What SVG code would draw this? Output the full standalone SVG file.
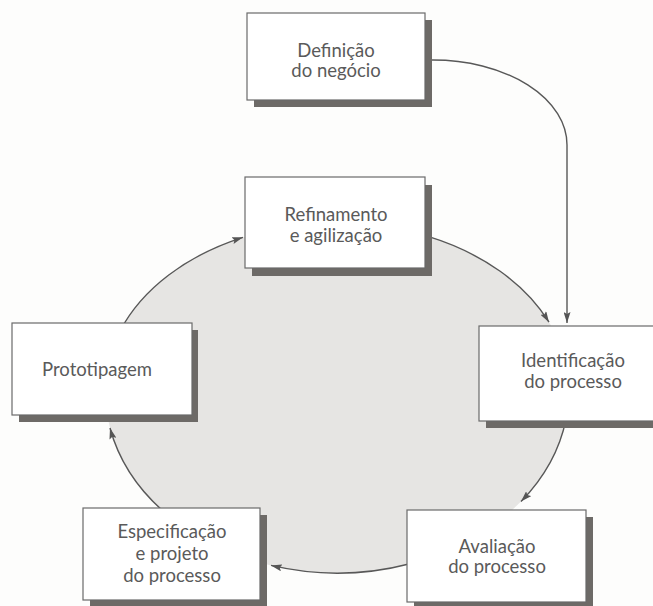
<svg xmlns="http://www.w3.org/2000/svg" width="653" height="606" viewBox="0 0 653 606">
  <defs>
    <style>
      .bg { fill: #fdfdfc; }
      .cycle { fill: #e6e5e3; stroke: none; }
      .link { fill: none; stroke: #585858; stroke-width: 1.4; }
      .shadow { fill: #6d6a67; }
      .box { fill: #ffffff; stroke: #6a6a6a; stroke-width: 1.2; }
      .label { font-family: "Lato", "Liberation Sans", sans-serif; font-size: 18.5px; fill: #5a5a5a; text-anchor: middle; }
    </style>
    <marker id="arrow" viewBox="0 0 11 7" refX="11" refY="3.5" markerWidth="11" markerHeight="7" markerUnits="userSpaceOnUse" orient="auto">
      <path d="M0,0 L11,3.5 L0,7 L2,3.5 Z" fill="#555555"/>
    </marker>
  </defs>

  <rect class="bg" x="0" y="0" width="653" height="606"/>

  <!-- shaded oval behind the process cycle -->
  <path class="cycle" d="M 105 390 A 232 167 0 0 1 569 390 A 232 183 0 0 1 105 390 Z"/>

  <g id="connectors">
    <!-- business definition feeds the cycle -->
    <path class="link" d="M 428 60 L 433 60 A 134 85 0 0 1 567 145 L 567 323" marker-end="url(#arrow)"/>
    <!-- cycle arcs, clockwise -->
    <path class="link" d="M 120 331 A 232 167 0 0 1 243 237.3" marker-end="url(#arrow)"/>
    <path class="link" d="M 428 236.4 A 232 167 0 0 1 549 322.2" marker-end="url(#arrow)"/>
    <path class="link" d="M 566 419.3 A 232 183 0 0 1 521 501.5" marker-end="url(#arrow)"/>
    <path class="link" d="M 410 563.7 A 232 183 0 0 1 271 565.4" marker-end="url(#arrow)"/>
    <path class="link" d="M 165 512.8 A 232 183 0 0 1 110 428" marker-end="url(#arrow)"/>
  </g>

  <g id="definicao">
    <rect class="shadow" x="254" y="20" width="178" height="87"/>
    <rect class="box" x="247" y="13" width="178" height="87"/>
    <text class="label" x="336" y="57">Definição</text>
    <text class="label" x="336" y="77">do negócio</text>
  </g>

  <g id="refinamento">
    <rect class="shadow" x="252" y="185" width="180" height="91"/>
    <rect class="box" x="245" y="177" width="180" height="91"/>
    <text class="label" x="336" y="221">Refinamento</text>
    <text class="label" x="336" y="242">e agilização</text>
  </g>

  <g id="prototipagem">
    <rect class="shadow" x="19" y="330" width="179" height="92"/>
    <rect class="box" x="12" y="323" width="180" height="92"/>
    <text class="label" x="97" y="376">Prototipagem</text>
  </g>

  <g id="identificacao">
    <rect class="shadow" x="486" y="333" width="180" height="95"/>
    <rect class="box" x="479" y="326" width="190" height="95"/>
    <text class="label" x="573" y="367">Identificação</text>
    <text class="label" x="573" y="388">do processo</text>
  </g>

  <g id="especificacao">
    <rect class="shadow" x="90" y="515" width="177" height="95"/>
    <rect class="box" x="83" y="508" width="177" height="92"/>
    <text class="label" x="172" y="538">Especificação</text>
    <text class="label" x="172" y="560">e projeto</text>
    <text class="label" x="172" y="582">do processo</text>
  </g>

  <g id="avaliacao">
    <rect class="shadow" x="414" y="517" width="179" height="93"/>
    <rect class="box" x="407" y="510" width="179" height="92"/>
    <text class="label" x="497" y="553">Avaliação</text>
    <text class="label" x="497" y="573">do processo</text>
  </g>
</svg>
